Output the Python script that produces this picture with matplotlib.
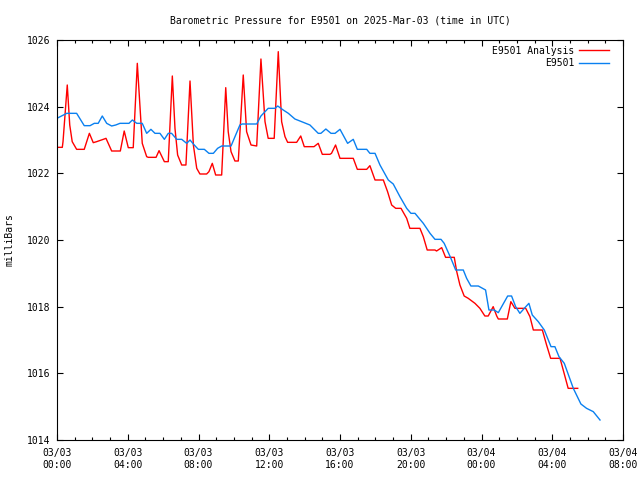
import matplotlib
matplotlib.use("Agg")
import matplotlib.pyplot as plt
from matplotlib.ticker import MultipleLocator, FuncFormatter

plt.rcParams['font.family'] = 'DejaVu Sans Mono'
plt.rcParams['font.size'] = 7

# hours since 2025-03-03 00:00 UTC
analysis_hours = [0.07, 0.30, 0.34, 0.58, 0.72, 0.86, 1.11, 1.54, 1.83, 2.05, 2.24, 2.67, 2.77,
                  3.09, 3.58, 3.80, 4.03, 4.31, 4.54, 4.82, 5.07, 5.16, 5.60, 5.77, 6.07, 6.29,
                  6.52, 6.67, 6.82, 7.05, 7.29, 7.52, 7.71, 7.90, 8.08, 8.46, 8.59, 8.78, 8.97,
                  9.31, 9.54, 9.68, 9.84, 10.06, 10.25, 10.53, 10.72, 10.97, 11.29, 11.53, 11.76,
                  11.94, 12.28, 12.51, 12.70, 12.89, 13.04, 13.55, 13.78, 13.98, 14.53, 14.77,
                  15.00, 15.43, 15.52, 15.75, 16.00, 16.75, 16.98, 17.51, 17.69, 17.98, 18.45,
                  18.69, 18.92, 19.15, 19.45, 19.77, 19.95, 20.52, 20.71, 20.93, 21.37, 21.46,
                  21.75, 21.97, 22.46, 22.60, 22.78, 23.02, 23.25, 23.63, 23.91, 24.19, 24.38,
                  24.66, 24.86, 24.95, 25.46, 25.66, 25.89, 26.50, 26.74, 26.93, 27.44, 27.68,
                  27.91, 28.44, 28.62, 28.90, 29.44]
analysis_mbar = [1022.78, 1022.78, 1022.95, 1024.65, 1023.45, 1022.95, 1022.72, 1022.72, 1023.20,
                 1022.92, 1022.95, 1023.03, 1023.05, 1022.67, 1022.67, 1023.27, 1022.77, 1022.77,
                 1025.30, 1022.90, 1022.50, 1022.48, 1022.48, 1022.68, 1022.35, 1022.35, 1024.92,
                 1023.35, 1022.55, 1022.25, 1022.25, 1024.77, 1022.85, 1022.15, 1021.98, 1021.98,
                 1022.05, 1022.30, 1021.95, 1021.95, 1024.57, 1023.25, 1022.65, 1022.37, 1022.37,
                 1024.95, 1023.25, 1022.85, 1022.82, 1025.43, 1023.55, 1023.05, 1023.05, 1025.65,
                 1023.55, 1023.10, 1022.93, 1022.93, 1023.12, 1022.80, 1022.80, 1022.90, 1022.57,
                 1022.57, 1022.60, 1022.85, 1022.45, 1022.45, 1022.12, 1022.12, 1022.23, 1021.80,
                 1021.80, 1021.45, 1021.05, 1020.95, 1020.95, 1020.65, 1020.35, 1020.35, 1020.10,
                 1019.70, 1019.70, 1019.67, 1019.77, 1019.48, 1019.48, 1019.05, 1018.65, 1018.32,
                 1018.25, 1018.10, 1017.95, 1017.72, 1017.72, 1018.00, 1017.72, 1017.63, 1017.63,
                 1018.15, 1017.95, 1017.95, 1017.70, 1017.30, 1017.30, 1016.85, 1016.45, 1016.45,
                 1016.10, 1015.55, 1015.55]

obs_hours = [0.07, 0.55, 1.11, 1.54, 1.87, 2.11, 2.33, 2.56, 2.81, 3.09, 3.32, 3.56, 4.07, 4.26,
             4.51, 4.82, 5.07, 5.31, 5.54, 5.82, 6.07, 6.29, 6.48, 6.77, 7.05, 7.33, 7.52, 7.76,
             7.99, 8.33, 8.59, 8.84, 9.08, 9.31, 9.84, 10.34, 10.47, 11.29, 11.53, 11.94, 12.32,
             12.48, 12.79, 13.08, 13.45, 13.83, 14.30, 14.77, 14.92, 15.20, 15.49, 15.72, 16.00,
             16.43, 16.75, 16.98, 17.51, 17.69, 17.98, 18.26, 18.73, 19.01, 19.39, 19.77, 20.01,
             20.24, 20.52, 20.71, 21.09, 21.37, 21.71, 21.89, 22.27, 22.54, 22.97, 23.16, 23.40,
             23.82, 24.23, 24.42, 24.72, 24.95, 25.48, 25.70, 25.93, 26.17, 26.42, 26.68, 26.87,
             27.21, 27.55, 27.93, 28.15, 28.38, 28.68, 29.19, 29.62, 29.94, 30.32, 30.70]
obs_mbar = [1023.67, 1023.80, 1023.80, 1023.43, 1023.43, 1023.50, 1023.50, 1023.72, 1023.50,
            1023.42, 1023.45, 1023.50, 1023.50, 1023.60, 1023.50, 1023.50, 1023.20, 1023.32,
            1023.20, 1023.20, 1023.02, 1023.20, 1023.20, 1023.02, 1023.02, 1022.90, 1023.00,
            1022.85, 1022.72, 1022.72, 1022.60, 1022.60, 1022.75, 1022.82, 1022.82, 1023.45,
            1023.48, 1023.48, 1023.72, 1023.95, 1023.95, 1024.02, 1023.90, 1023.80, 1023.63,
            1023.55, 1023.45, 1023.20, 1023.20, 1023.33, 1023.20, 1023.20, 1023.32, 1022.90,
            1023.02, 1022.72, 1022.72, 1022.60, 1022.60, 1022.25, 1021.80, 1021.68, 1021.30,
            1020.95, 1020.80, 1020.80, 1020.62, 1020.50, 1020.20, 1020.02, 1020.02, 1019.90,
            1019.45, 1019.10, 1019.10, 1018.85, 1018.62, 1018.62, 1018.50, 1017.90, 1017.90,
            1017.82, 1018.32, 1018.32, 1018.00, 1017.80, 1017.95, 1018.10, 1017.75, 1017.55,
            1017.30, 1016.80, 1016.80, 1016.50, 1016.30, 1015.55, 1015.08, 1014.95, 1014.85,
            1014.60]

tick_dates = ['03/03', '03/03', '03/03', '03/03', '03/03', '03/03', '03/04', '03/04', '03/04']
tick_times = ['00:00', '04:00', '08:00', '12:00', '16:00', '20:00', '00:00', '04:00', '08:00']

fig = plt.figure(figsize=(6.4, 4.8), dpi=100)
ax = fig.add_axes([57 / 640, 40 / 480, 566 / 640, 400 / 480])

ax.plot(analysis_hours, analysis_mbar, color='#ff0000', lw=1.0, label='E9501 Analysis')
ax.plot(obs_hours, obs_mbar, color='#0a80f0', lw=1.0, label='E9501')

ax.set_xlim(0, 32)
ax.set_ylim(1014, 1026)
ax.xaxis.set_major_locator(MultipleLocator(4))
ax.xaxis.set_minor_locator(MultipleLocator(1))
ax.yaxis.set_major_locator(MultipleLocator(2))
ax.xaxis.set_major_formatter(FuncFormatter(
    lambda v, p: tick_dates[int(round(v / 4))] + '\n' + tick_times[int(round(v / 4))]
    if 0 <= int(round(v / 4)) < len(tick_dates) else ''))
ax.yaxis.set_major_formatter(FuncFormatter(lambda v, p: '%d' % v))

ax.tick_params(which='both', direction='in', top=True, right=True, color='black', width=0.8)
ax.tick_params(which='major', length=4.5, pad=5)
ax.tick_params(which='minor', length=2.5)
ax.tick_params(axis='x', which='major', pad=6)
for s in ax.spines.values():
    s.set_linewidth(0.8)

ax.set_ylabel('milliBars', labelpad=9)
ax.set_title('Barometric Pressure for E9501 on 2025-Mar-03 (time in UTC)', fontsize=7, pad=12)

ax.legend(loc='upper right', bbox_to_anchor=(0.986, 1.0), frameon=False, markerfirst=False,
          handlelength=3.1, handletextpad=0.5, labelspacing=0.25, borderaxespad=0.3,
          borderpad=0.3)

fig.savefig('out.png', dpi=100)
